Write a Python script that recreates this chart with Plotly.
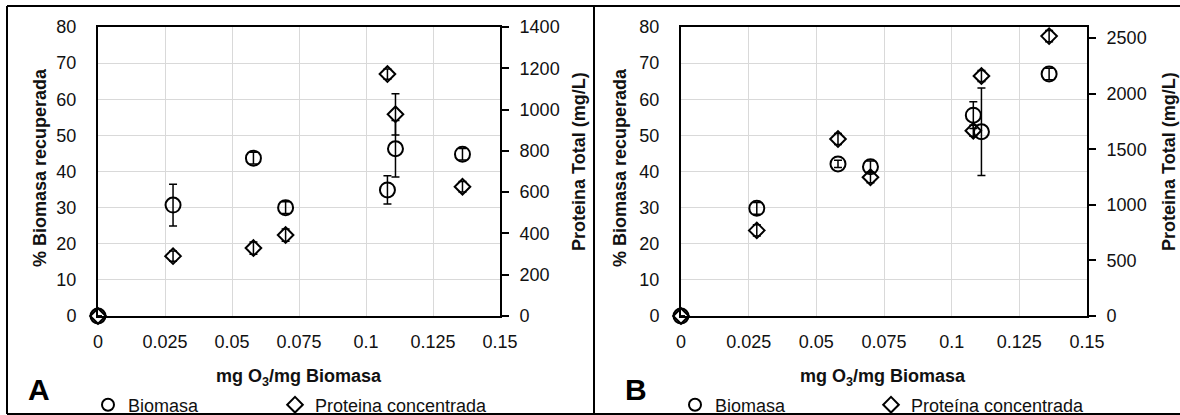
import plotly.graph_objects as go

W, H = 1180, 415

# Ozone dose applied (mg O3 / mg biomass), shared by both experiments
dose = [0, 0.028, 0.058, 0.07, 0.108, 0.111, 0.136]

# Experiment A
biomasa_a = [0, 30.7, 43.7, 30.0, 34.9, 46.3, 44.8]
biomasa_a_err = [0, 5.8, 1.6, 1.6, 3.9, 7.8, 1.6]
proteina_a = [0, 290, 329, 392, 1172, 977, 626]
proteina_a_err = [0, 25, 30, 30, 25, 100, 25]

# Experiment B
biomasa_b = [0, 29.8, 42.1, 41.3, 55.6, 51.0, 67.0]
biomasa_b_err = [0, 1.6, 1.0, 1.6, 3.7, 12.1, 1.6]
proteina_b = [0, 770, 1592, 1248, 1667, 2159, 2518]
proteina_b_err = [0, 50, 50, 50, 50, 50, 50]

x_tickvals = [0, 0.025, 0.05, 0.075, 0.1, 0.125, 0.15]
x_ticktext = ["0", "0.025", "0.05", "0.075", "0.1", "0.125", "0.15"]
left_tickvals = [0, 10, 20, 30, 40, 50, 60, 70, 80]
right_a_tickvals = [0, 200, 400, 600, 800, 1000, 1200, 1400]
right_b_tickvals = [0, 500, 1000, 1500, 2000, 2500]

FONT = "Liberation Sans, Arial, sans-serif"
TXT = "#111111"
GRID = "#d9d9d9"


def px(xp):
    """pixel x -> paper fraction"""
    return xp / W


def py(yp):
    """pixel y (from top) -> paper fraction"""
    return 1 - yp / H


plot_top, plot_bottom = 27, 316
dom_y = [py(plot_bottom), py(plot_top)]
dom_a = [px(98), px(500)]
dom_b = [px(681), px(1087)]


def err(arr):
    return dict(type="data", array=arr, color="black", thickness=1.5, width=4)


circle = dict(symbol="circle-open", size=15, color="black", line=dict(width=2))
diamond = dict(symbol="diamond-open", size=12, color="black", line=dict(width=2))

fig = go.Figure()
fig.add_trace(go.Scatter(x=dose, y=biomasa_a, mode="markers", name="Biomasa",
                         marker=circle, error_y=err(biomasa_a_err),
                         xaxis="x", yaxis="y", legend="legend", cliponaxis=False))
fig.add_trace(go.Scatter(x=dose, y=proteina_a, mode="markers", name="Proteina concentrada",
                         marker=diamond, error_y=err(proteina_a_err),
                         xaxis="x", yaxis="y2", legend="legend2", cliponaxis=False))
fig.add_trace(go.Scatter(x=dose, y=biomasa_b, mode="markers", name="Biomasa",
                         marker=circle, error_y=err(biomasa_b_err),
                         xaxis="x2", yaxis="y3", legend="legend3", cliponaxis=False))
fig.add_trace(go.Scatter(x=dose, y=proteina_b, mode="markers", name="Proteína concentrada",
                         marker=diamond, error_y=err(proteina_b_err),
                         xaxis="x2", yaxis="y4", legend="legend4", cliponaxis=False))

tick_font = dict(family=FONT, size=18, color=TXT)

x_common = dict(range=[0, 0.15], tickvals=x_tickvals, ticktext=x_ticktext,
                showgrid=True, gridcolor=GRID, gridwidth=1, zeroline=False,
                showline=True, linecolor="black", linewidth=2, mirror=True,
                ticks="", tickfont=tick_font, ticklabelstandoff=8)
left_common = dict(range=[0, 80], tickvals=left_tickvals, domain=dom_y,
                   showgrid=True, gridcolor=GRID, gridwidth=1, zeroline=False,
                   showline=True, linecolor="black", linewidth=2,
                   ticks="", tickfont=tick_font, ticklabelstandoff=16)
right_common = dict(side="right", showgrid=False, zeroline=False,
                    showline=True, linecolor="black", linewidth=2,
                    ticks="outside", ticklen=7, tickwidth=1.5, tickcolor="black",
                    tickfont=tick_font, ticklabelstandoff=7)


def legend_at(x_left):
    return dict(orientation="h", x=px(x_left), y=py(405), xanchor="left", yanchor="middle",
                font=dict(family=FONT, size=18, color=TXT),
                bgcolor="rgba(0,0,0,0)", itemsizing="constant")


fig.update_layout(
    width=W, height=H, autosize=False,
    margin=dict(l=0, r=0, t=0, b=0, pad=0, autoexpand=False),
    paper_bgcolor="white", plot_bgcolor="white",
    font=dict(family=FONT, color=TXT),
    showlegend=True,
    xaxis=dict(domain=dom_a, anchor="y", **x_common),
    yaxis=dict(anchor="x", **left_common),
    yaxis2=dict(overlaying="y", anchor="x", range=[0, 1400],
                tickvals=right_a_tickvals, **right_common),
    xaxis2=dict(domain=dom_b, anchor="y3", **x_common),
    yaxis3=dict(anchor="x2", **left_common),
    yaxis4=dict(overlaying="y3", anchor="x2", range=[0, 2600],
                tickvals=right_b_tickvals, **right_common),
    legend=legend_at(88),
    legend2=legend_at(275),
    legend3=legend_at(675),
    legend4=legend_at(871),
)

title_font = dict(family=FONT, size=18, color=TXT)
annotations = [
    # panel A
    dict(x=px(40), y=py(168), text="<b>% Biomasa recuperada</b>", textangle=-90),
    dict(x=px(579), y=py(162), text="<b>Proteina Total (mg/L)</b>", textangle=-90),
    dict(x=px(299), y=py(377), text="<b>mg O<sub>3</sub>/mg Biomasa</b>"),
    dict(x=px(39), y=py(389), text="<b>A</b>", font=dict(family=FONT, size=30, color="black")),
    # panel B
    dict(x=px(620), y=py(168), text="<b>% Biomasa recuperada</b>", textangle=-90),
    dict(x=px(1169), y=py(162), text="<b>Proteina Total (mg/L)</b>", textangle=-90),
    dict(x=px(883), y=py(377), text="<b>mg O<sub>3</sub>/mg Biomasa</b>"),
    dict(x=px(636), y=py(389), text="<b>B</b>", font=dict(family=FONT, size=30, color="black")),
]
for a in annotations:
    a.setdefault("font", title_font)
    fig.add_annotation(xref="paper", yref="paper", showarrow=False,
                       xanchor="center", yanchor="middle", **a)

# frame around the two panels
frame = dict(color="black", width=2)
left_x, top_y, bottom_y, split_x = 7, 6, 414, 594
for x0, y0, x1, y1 in [(left_x, top_y, W, top_y), (left_x, bottom_y, W, bottom_y),
                       (left_x, top_y, left_x, bottom_y), (split_x, top_y, split_x, bottom_y)]:
    fig.add_shape(type="line", xref="paper", yref="paper",
                  x0=px(x0), y0=py(y0), x1=px(x1), y1=py(y1), line=frame)

fig.write_html("out.html")
